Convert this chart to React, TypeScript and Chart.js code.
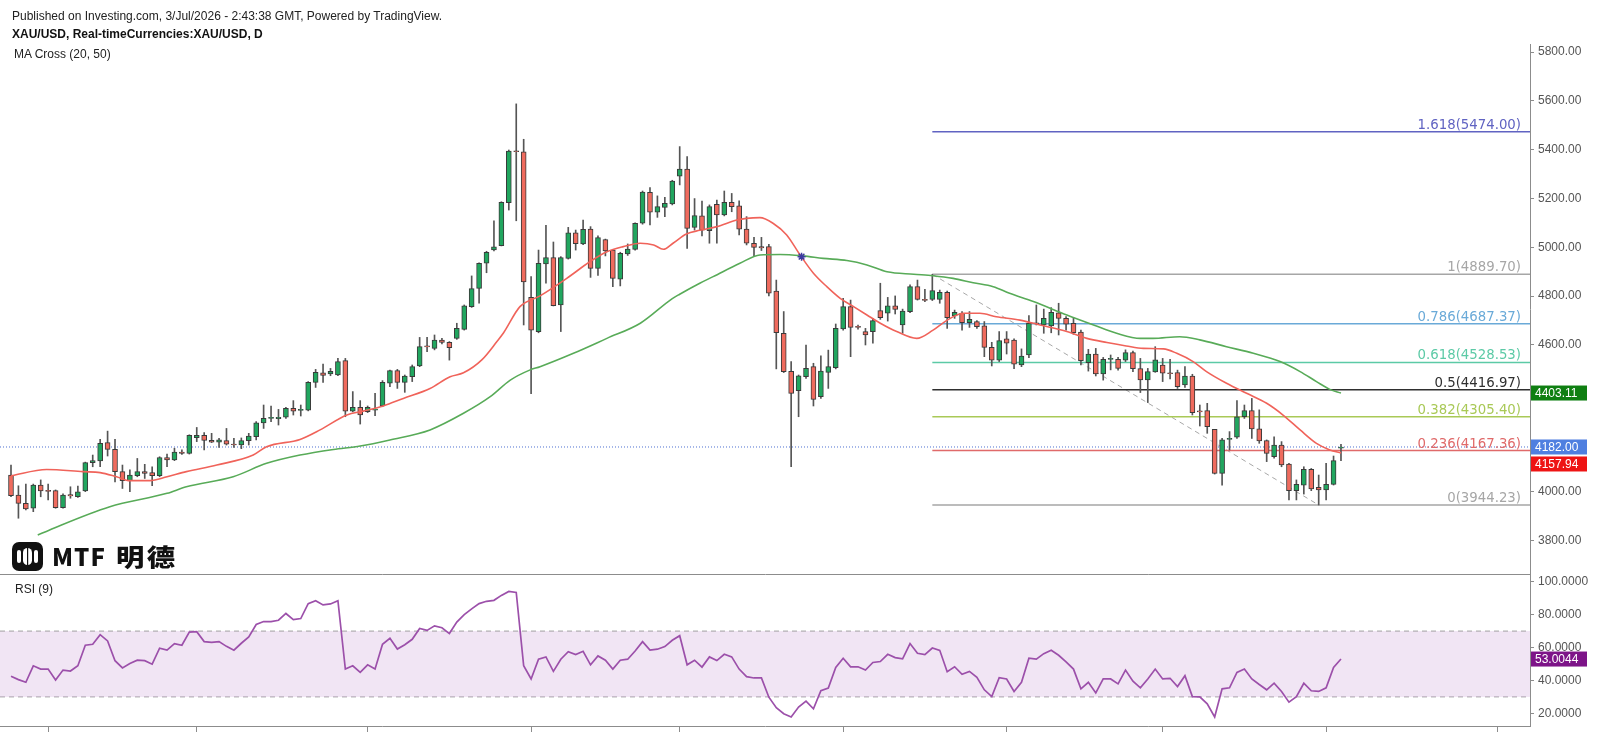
import React, { useEffect, useRef } from 'react';
import { Chart, registerables } from 'chart.js';

Chart.register(...registerables);

// ---------- data ----------
const opens = [4067,3985,3951,3931,4026,4002,4003,3933,3987,3978, 4002,4118,4125,4200,4172,4081,4044,4064,4081,4077, 4064,4139,4129,4161,4156,4220,4230,4209,4202,4208, 4194,4190,4208,4224,4281,4299,4298,4304,4340,4332, 4333,4447,4486,4481,4477,4536,4329,4344,4327,4333, 4350,4443,4495,4447,4470,4514,4593,4586,4620,4611, 4627,4664,4757,4832,4935,4990,5007,5183,5395,5392, 4795,4655,4932,4958,4764,4955,5060,5014,5075,4914, 5032,4989,4870,4973,4992,5099,5226,5144,5164,5178, 5292,5321,5082,5129,5068,5176,5133,5185,5170,5075, 5017,5003,5003,4821,4648,4492,4413,4470,4511,4388, 4488,4507,4666,4757,4674,4655,4655,4741,4730,4760, 4682,4737,4839,4787,4787,4787,4816,4719,4730,4691, 4696,4678,4590,4538,4625,4620,4518,4559,4691,4682, 4678,4732,4709,4689,4653,4528,4563,4481,4541,4541, 4538,4569,4503,4457,4490,4518,4484,4487,4436,4473, 4330,4331,4254,4074,4213,4222,4306,4331,4256,4208, 4142,4190,4112,4003,4026,4090,4017,4006,4029,4177];
const highs = [4108,4023,4030,4030,4047,4030,4006,3990,4019,4022, 4120,4149,4213,4247,4213,4108,4088,4135,4111,4101, 4142,4153,4177,4170,4232,4262,4241,4238,4217,4258, 4217,4219,4238,4286,4354,4350,4336,4345,4372,4354, 4450,4500,4522,4504,4545,4545,4409,4372,4350,4402, 4454,4497,4500,4477,4518,4631,4631,4641,4627,4614, 4689,4764,4883,4937,4984,5109,5187,5399,5588,5443, 4880,4989,5090,5022,4962,5082,5071,5112,5085,5047, 5034,4992,4980,5014,5101,5231,5245,5211,5205,5275, 5413,5372,5200,5190,5174,5194,5231,5221,5191,5126, 5041,5041,5012,4866,4737,4532,4477,4600,4525,4556, 4579,4686,4791,4784,4682,4668,4709,4853,4795,4801, 4747,4846,4866,4828,4889.7,4825,4821,4743,4737,4737, 4700,4696,4611,4655,4655,4625,4584,4720,4764,4747, 4753,4771,4716,4712,4661,4582,4586,4549,4559,4549, 4580,4575,4545,4504,4593,4545,4541,4497,4511,4480, 4354,4361,4254,4217,4245,4372,4354,4381,4334,4211, 4224,4204,4115,4047,4101,4094,4067,4115,4145,4193];
const lows = [3978,3890,3924,3917,3978,3965,3931,3931,3972,3975, 3999,4101,4101,4145,4039,4012,3999,4060,4053,4023, 4060,4101,4126,4152,4153,4204,4170,4200,4180,4190, 4180,4175,4190,4211,4258,4286,4272,4299,4313,4309, 4330,4426,4447,4474,4474,4306,4326,4276,4323,4310, 4347,4429,4422,4406,4450,4511,4573,4580,4604,4538, 4623,4661,4754,4771,4896,4985,5006,5153,5109,4682, 4400,4650,4853,4760,4655,4952,4989,5011,4877,4885, 4965,4839,4842,4967,4989,5095,5092,5123,5126,5174, 5256,4996,5071,5047,5017,5017,5129,5146,5051,5010, 4965,4987,4801,4502,4487,4101,4306,4463,4350,4381, 4422,4502,4661,4552,4665,4600,4607,4705,4698,4727, 4648,4732,4784,4778,4782,4771,4668,4709,4661,4672, 4668,4552,4514,4532,4563,4503,4511,4548,4682,4648, 4650,4641,4661,4644,4518,4493,4473,4456,4498,4497, 4532,4491,4405,4364,4488,4450,4461,4422,4426,4313, 4268,4238,4071,4026,4170,4217,4299,4217,4197,4122, 4136,4101,3965,3965,3989,4003,3944.23,3965,4026,4126];
const closes = [3982,3951,3928,4026,4002,4000,3933,3985,3981,3998, 4118,4126,4197,4172,4081,4044,4067,4081,4074,4064, 4139,4129,4161,4156,4230,4230,4209,4202,4211,4194, 4190,4208,4227,4281,4299,4301,4304,4340,4329,4336, 4447,4488,4475,4492,4532,4329,4345,4313,4344,4334, 4447,4495,4447,4473,4511,4593,4592,4620,4611,4589, 4668,4760,4831,4935,4980,5002,5185,5395,5392,4858, 4661,4935,4958,4761,4958,5060,5015,5074,4914,5040, 4985,4873,4976,4993,5099,5227,5144,5167,5180,5272, 5321,5078,5130,5071,5167,5133,5185,5167,5075,5017, 5000,4998,4812,4650,4491,4402,4474,4504,4377,4493, 4511,4668,4757,4672,4672,4641,4700,4712,4760,4746, 4739,4839,4787,4783,4823,4816,4712,4734,4691,4705, 4675,4590,4538,4618,4607,4521,4555,4689,4686,4709, 4734,4709,4685,4650,4536,4563,4481,4541,4542,4504, 4569,4503,4457,4491,4539,4484,4482,4429,4473,4323, 4326,4265,4074,4211,4215,4306,4331,4256,4207,4156, 4190,4108,4003,4029,4090,4010,4006,4029,4126,4182];

const rsiValues = [42.5,40.5,38.9,48.9,46.9,46.9,40.3,46.3,45.7,48.9, 61.4,62.0,67.8,64.0,52.0,47.6,50.3,52.3,52.0,49.9, 59.6,58.4,62.4,61.4,69.4,69.6,63.6,63.1,63.6,60.7, 58.4,62.6,66.4,74.0,75.8,75.8,76.6,80.7,77.0,77.6, 86.7,88.5,85.9,86.5,88.5,46.9,48.9,44.9,49.5,46.9, 62.0,65.6,59.1,61.7,65.0,71.6,70.4,73.2,72.0,68.5, 75.5,80.0,83.5,86.7,88.1,88.7,91.7,94.1,93.5,48.9, 40.9,52.9,54.3,45.5,52.9,57.5,55.7,57.7,49.5,54.9, 52.3,46.9,52.3,52.9,57.9,63.6,58.4,59.0,60.6,64.4, 67.2,49.5,52.3,48.1,54.3,52.1,55.9,54.3,46.9,42.3, 41.5,41.5,29.8,23.4,19.8,17.8,23.8,27.4,22.8,33.8, 35.4,47.9,53.5,48.3,48.3,46.3,50.9,51.5,55.9,53.9, 53.1,62.4,56.5,55.7,59.7,58.3,45.3,48.3,43.7,45.5, 41.9,34.3,30.2,41.7,40.9,33.3,38.9,53.5,52.9,56.3, 58.3,55.3,51.3,46.9,34.9,38.9,32.4,40.9,40.9,37.9, 46.3,39.5,35.5,40.9,46.9,40.9,41.3,36.3,42.9,30.2, 30.0,25.8,17.8,34.9,35.5,44.9,46.9,40.9,37.5,34.3, 38.3,33.3,26.8,30.2,38.3,33.7,33.3,35.5,47.9,53.0044];

const ma20X = [0,4.8,9.7,12,14.2,16,18.7,21,23.6,27.7, 32.6,34.4,38.9,41.6,45.2,47.4,50.1,52.8,56.4,59.1, 60.9,63.4,65.4,66.3,68.5,71.2,74.8,77.9,80.2,82.4, 84.7,86.5,87.8,89.1,90.9,92.7,95,97.7,99,100.8, 102.6,104.4,106.2,108,109.8,111.6,113.4,115.2,117,119.2, 121.9,124.1,125.9,128.2,130.4,132.6,135.8,138.5,142.1,144.8, 147.5,150.1,152.4,155.1,156.9,159.1,160.9,163.6,166.3,169, 171.2,173.5,175.7,177.5,179];
const ma20Y = [4064,4090,4081,4077,4060,4044,4044,4060,4081,4108, 4149,4183,4213,4252,4313,4329,4350,4381,4422,4470, 4486,4540,4614,4650,4757,4801,4873,4941,4982,5003, 5017,5010,4992,5017,5055,5070,5085,5112,5119,5122, 5098,5051,4969,4894,4839,4791,4757,4723,4689,4655, 4627,4661,4700,4730,4730,4716,4702,4682,4655,4627, 4610,4596,4586,4584,4566,4532,4491,4443,4402,4361, 4313,4252,4197,4170,4157.94];

const ma50X = [3.6,5.2,13.3,21,23.6,29.9,34.4,38.9,43.4,47, 51,56.4,60.9,64.5,67.2,69.8,71.2,75.7,80.2,84.7, 89,90,92.7,94.5,98.1,100.8,103.5,106.6,109.3,112.5, 115.2,117.9,121.5,124.1,126.8,129.5,132.2,134.4,137.6,142.1, 145.7,148.8,152,153.7,157.3,160,163.6,167.2,170.8,173.5, 175.7,177.5,179];
const ma50Y = [3821,3842,3937,3992,4019,4060,4115,4149,4172,4186, 4211,4252,4320,4388,4456,4497,4511,4566,4627,4689, 4790,4808,4853,4880,4935,4969,4971,4965,4955,4946, 4928,4900,4890,4884,4873,4855,4839,4812,4778,4723, 4682,4648,4627,4627,4634,4621,4593,4566,4532,4491, 4450,4418,4403.11];

const crossX = [106.4];
const crossY = [4962];

const priceTicks = [3800, 4000, 4200, 4400, 4600, 4800, 5000, 5200, 5400, 5600, 5800];
const rsiTicks = [20, 40, 60, 80, 100];
const monthStartIdx = [5, 25, 48, 70, 90, 112, 134, 155, 177, 200];

const fibRatios = [1.618, 1, 0.786, 0.618, 0.5, 0.382, 0.236, 0];
const fibValues = [5474.0, 4889.7, 4687.37, 4528.53, 4416.97, 4305.4, 4167.36, 3944.23];
const fibColors = ['#6063c2', '#a6a6a6', '#6aaad8', '#5ccaa6', '#2f2f2f', '#a9c957', '#e06a6a', '#a6a6a6'];
const swingIdx = [124, 176];
const swingPrice = [4889.7, 3944.23];

const lastPrice = 4182.0;
const ma20Last = 4157.94;
const ma50Last = 4403.11;
const rsiLast = 53.0044;

// ---------- layout constants ----------
const X_MIN = -1.48;
const X_MAX = 204.44;
const PRICE_MIN = 3661.5;
const PRICE_MAX = 5833.4;
const RSI_MIN = 12.3;
const RSI_MAX = 104.7;
const AXIS_W = 70;
const AXIS_COLOR = '#8c8c8c';
const GREEN = '#21a65f';
const RED = '#ef6b5e';
const FONT = '"Liberation Sans", Arial, sans-serif';

const zeroPad = (s: any) => {
  s.paddingTop = 0;
  s.paddingBottom = 0;
  s.paddingLeft = 0;
  s.paddingRight = 0;
};

function hideNear(values: number[], pxPerUnit: number, minPx: number) {
  return (v: any) => (values.some((b) => Math.abs(b - Number(v)) * pxPerUnit < minPx) ? '' : null);
}

function boxPlugin(id: string, items: { value: number; text: string; color: string }[]) {
  return {
    id,
    afterDraw(chart: any) {
      const { ctx, chartArea, scales } = chart;
      const ys = scales.y;
      const h = 15;
      const list = items
        .map((it) => ({ ...it, cy: ys.getPixelForValue(it.value) }))
        .sort((a, b) => a.cy - b.cy);
      let lastBottom = -1e9;
      ctx.save();
      ctx.font = `12px ${FONT}`;
      ctx.textBaseline = 'middle';
      ctx.textAlign = 'left';
      list.forEach((it) => {
        let top = it.cy - h / 2;
        if (top < lastBottom + 2) top = lastBottom + 2;
        ctx.fillStyle = it.color;
        ctx.fillRect(chartArea.right + 1, top, 56, h);
        ctx.fillStyle = '#ffffff';
        ctx.fillText(it.text, chartArea.right + 5, top + h / 2 + 0.5);
        lastBottom = top + h;
      });
      ctx.restore();
    },
  };
}

const fibLabelPlugin = {
  id: 'fibLabels',
  afterDatasetsDraw(chart: any) {
    const { ctx, chartArea, scales } = chart;
    ctx.save();
    ctx.font = '13.3px "DejaVu Sans", sans-serif';
    ctx.textAlign = 'right';
    ctx.textBaseline = 'alphabetic';
    fibValues.forEach((v, k) => {
      ctx.fillStyle = fibColors[k];
      ctx.fillText(`${fibRatios[k]}(${v.toFixed(2)})`, chartArea.right - 9, scales.y.getPixelForValue(v) - 3);
    });
    ctx.restore();
  },
};

export default function App() {
  const priceRef = useRef<HTMLCanvasElement>(null);
  const rsiRef = useRef<HTMLCanvasElement>(null);

  useEffect(() => {
    Chart.defaults.font.family = FONT;
    const idx = opens.map((_, i) => i);
    const bodyColors = idx.map((i) => (closes[i] >= opens[i] ? GREEN : RED));
    const pricePx = 530 / (PRICE_MAX - PRICE_MIN);
    const hidePrice = hideNear([lastPrice, ma50Last], pricePx, 8);

    const fibDatasets = fibValues.map((v, k) => ({
      type: 'line' as const,
      data: [
        { x: swingIdx[0], y: v },
        { x: X_MAX, y: v },
      ],
      borderColor: fibColors[k],
      borderWidth: 1.5,
      pointRadius: 0,
      order: 4,
    }));

    const price = new Chart(priceRef.current as HTMLCanvasElement, {
      type: 'bar',
      data: {
        datasets: [
          {
            type: 'line',
            data: ma20X.map((x, k) => ({ x, y: ma20Y[k] })),
            borderColor: '#f0635a',
            borderWidth: 1.6,
            pointRadius: 0,
            cubicInterpolationMode: 'monotone',
            order: 0,
          },
          {
            type: 'line',
            data: ma50X.map((x, k) => ({ x, y: ma50Y[k] })),
            borderColor: '#58ab58',
            borderWidth: 1.6,
            pointRadius: 0,
            cubicInterpolationMode: 'monotone',
            order: 0,
          },
          {
            type: 'line',
            data: crossX.map((x, k) => ({ x, y: crossY[k] })),
            showLine: false,
            pointStyle: 'star',
            pointRadius: 4,
            borderColor: '#3c3ca0',
            borderWidth: 1.5,
            order: -1,
          },
          {
            type: 'bar',
            data: idx.map((i) => ({ x: i, y: [opens[i], closes[i]] })),
            backgroundColor: bodyColors,
            borderColor: '#3a3a3a',
            borderWidth: 1,
            borderSkipped: false,
            barThickness: 5,
            grouped: false,
            minBarLength: 1,
            order: 2,
          },
          {
            type: 'bar',
            data: idx.map((i) => ({ x: i, y: [lows[i], highs[i]] })),
            backgroundColor: '#555555',
            barThickness: 1,
            grouped: false,
            order: 3,
          },
          ...fibDatasets,
          {
            type: 'line',
            data: swingIdx.map((x, k) => ({ x, y: swingPrice[k] })),
            borderColor: '#a8a8a8',
            borderWidth: 1,
            borderDash: [5, 4],
            pointRadius: 0,
            order: 4,
          },
          {
            type: 'line',
            data: [
              { x: X_MIN, y: lastPrice },
              { x: X_MAX, y: lastPrice },
            ],
            borderColor: '#4d6fd1',
            borderWidth: 1,
            borderDash: [1, 2],
            pointRadius: 0,
            order: 5,
          },
        ] as any,
      },
      options: {
        responsive: false,
        maintainAspectRatio: false,
        animation: false,
        events: [],
        layout: { autoPadding: false, padding: { top: 44, left: 0, right: 0, bottom: 0 } },
        plugins: { legend: { display: false }, tooltip: { enabled: false } },
        scales: {
          x: {
            type: 'linear',
            min: X_MIN,
            max: X_MAX,
            offset: false,
            grid: { display: false, offset: false, drawTicks: false, tickLength: 0 },
            border: { display: true, color: AXIS_COLOR, width: 1 },
            ticks: { display: false },
            afterFit: (s: any) => {
              s.height = 1;
              zeroPad(s);
            },
          },
          y: {
            type: 'linear',
            position: 'right',
            min: PRICE_MIN,
            max: PRICE_MAX,
            grid: { drawOnChartArea: false, drawTicks: true, tickLength: 4, color: AXIS_COLOR },
            border: { display: true, color: AXIS_COLOR },
            ticks: {
              color: '#555555',
              font: { size: 12, family: FONT },
              padding: 4,
              callback: (v: any) => hidePrice(v) ?? Number(v).toFixed(2),
            },
            afterBuildTicks: (s: any) => {
              s.ticks = priceTicks.map((v) => ({ value: v }));
            },
            afterFit: (s: any) => {
              s.width = AXIS_W;
              zeroPad(s);
            },
          },
        },
      } as any,
      plugins: [
        fibLabelPlugin,
        boxPlugin('priceBoxes', [
          { value: ma50Last, text: ma50Last.toFixed(2), color: '#0f7f12' },
          { value: lastPrice, text: lastPrice.toFixed(2), color: '#4f7fe0' },
          { value: ma20Last, text: ma20Last.toFixed(2), color: '#ee1414' },
        ]),
      ],
    });

    const rsi = new Chart(rsiRef.current as HTMLCanvasElement, {
      type: 'line',
      data: {
        datasets: [
          {
            data: idx.map((i) => ({ x: i, y: rsiValues[i] })),
            borderColor: '#9c50aa',
            borderWidth: 1.7,
            pointRadius: 0,
            fill: false,
            order: 0,
          },
          {
            data: [
              { x: X_MIN, y: 70 },
              { x: X_MAX, y: 70 },
            ],
            borderColor: '#a0a0a0',
            borderWidth: 1,
            borderDash: [5, 4],
            pointRadius: 0,
            fill: '+1',
            backgroundColor: 'rgba(206, 160, 216, 0.28)',
            order: 1,
          },
          {
            data: [
              { x: X_MIN, y: 30 },
              { x: X_MAX, y: 30 },
            ],
            borderColor: '#a0a0a0',
            borderWidth: 1,
            borderDash: [5, 4],
            pointRadius: 0,
            fill: false,
            order: 1,
          },
        ] as any,
      },
      options: {
        responsive: false,
        maintainAspectRatio: false,
        animation: false,
        events: [],
        layout: { autoPadding: false, padding: { top: 0, left: 0, right: 0, bottom: 0 } },
        plugins: { legend: { display: false }, tooltip: { enabled: false } },
        scales: {
          x: {
            type: 'linear',
            min: X_MIN,
            max: X_MAX,
            offset: false,
            grid: { display: true, drawOnChartArea: false, drawTicks: true, tickLength: 6, color: AXIS_COLOR, offset: false },
            border: { display: true, color: AXIS_COLOR, width: 1 },
            ticks: { display: false },
            afterBuildTicks: (s: any) => {
              s.ticks = monthStartIdx.map((v) => ({ value: v }));
            },
            afterFit: (s: any) => {
              s.height = 8;
              zeroPad(s);
            },
          },
          y: {
            type: 'linear',
            position: 'right',
            min: RSI_MIN,
            max: RSI_MAX,
            grid: { drawOnChartArea: false, drawTicks: true, tickLength: 4, color: AXIS_COLOR },
            border: { display: true, color: AXIS_COLOR },
            ticks: {
              color: '#555555',
              font: { size: 12, family: FONT },
              padding: 4,
              callback: (v: any) => Number(v).toFixed(4),
            },
            afterBuildTicks: (s: any) => {
              s.ticks = rsiTicks.map((v) => ({ value: v }));
            },
            afterFit: (s: any) => {
              s.width = AXIS_W;
              zeroPad(s);
            },
          },
        },
      } as any,
      plugins: [boxPlugin('rsiBox', [{ value: rsiLast, text: rsiLast.toFixed(4), color: '#7d1488' }])],
    });

    return () => {
      price.destroy();
      rsi.destroy();
    };
  }, []);

  const text = (extra: React.CSSProperties): React.CSSProperties => ({
    position: 'absolute',
    fontFamily: FONT,
    fontSize: 12,
    lineHeight: '14px',
    color: '#222',
    whiteSpace: 'nowrap',
    ...extra,
  });

  return (
    <div style={{ position: 'absolute', left: 0, top: 0, width: 1600, height: 734, background: '#ffffff', overflow: 'hidden' }}>
      <canvas ref={priceRef} width={1600} height={575} style={{ position: 'absolute', left: 0, top: 0, width: 1600, height: 575 }} />
      <canvas ref={rsiRef} width={1600} height={160} style={{ position: 'absolute', left: 0, top: 574, width: 1600, height: 160 }} />
      <div style={text({ left: 12, top: 9 })}>Published on Investing.com, 3/Jul/2026 - 2:43:38 GMT, Powered by TradingView.</div>
      <div style={text({ left: 12, top: 26.5, fontWeight: 700, color: '#111' })}>XAU/USD, Real-timeCurrencies:XAU/USD, D</div>
      <div style={text({ left: 14, top: 47 })}>MA Cross (20, 50)</div>
      <div style={text({ left: 15, top: 581.5 })}>RSI (9)</div>
      <div style={{ position: 'absolute', left: 12, top: 541, height: 30, display: 'flex', alignItems: 'center' }}>
        <svg width="31" height="29" viewBox="0 0 31 29">
          <rect x="0" y="0" width="31" height="29" rx="7" fill="#111" />
          <rect x="5" y="8" width="4" height="13" rx="2" fill="#fff" />
          <rect x="11" y="6" width="9" height="17" rx="4.5" fill="#fff" />
          <rect x="15" y="6" width="1.2" height="17" fill="#111" />
          <rect x="22" y="8" width="4" height="13" rx="2" fill="#fff" />
        </svg>
        <span style={{ marginLeft: 9, fontFamily: '"Noto Sans CJK SC", Roboto, sans-serif', fontWeight: 900, fontSize: 24, lineHeight: '30px', color: '#111', letterSpacing: 1, whiteSpace: 'nowrap' }}>
          MTF
          <span style={{ display: 'inline-block', marginLeft: 10, letterSpacing: 2, transform: 'scaleX(1.18)', transformOrigin: 'left center' }}>明德</span>
        </span>
      </div>
    </div>
  );
}
